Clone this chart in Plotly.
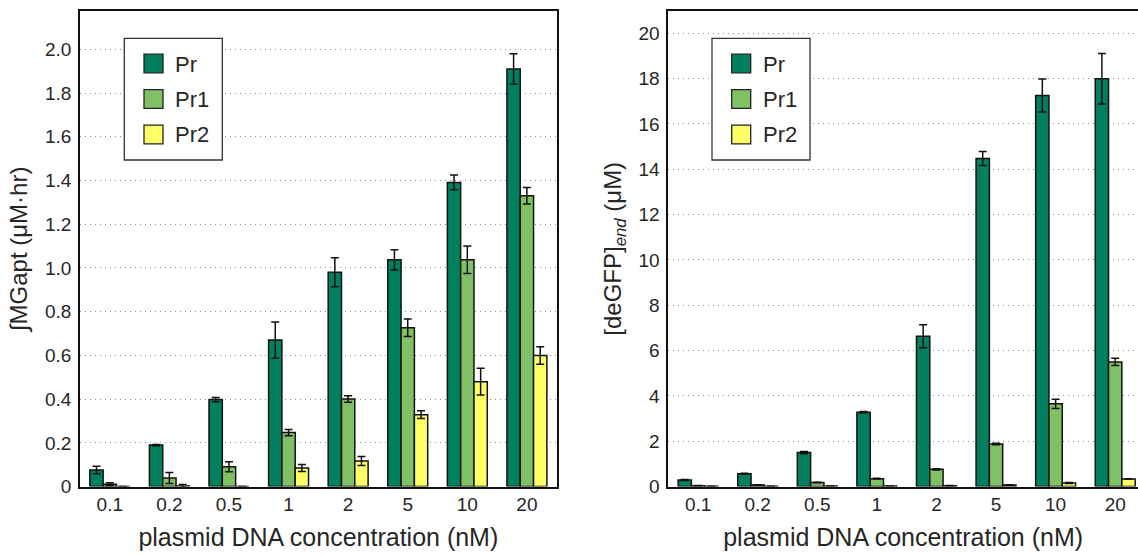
import plotly.graph_objects as go

# ---------------- data ----------------
categories = ["0.1", "0.2", "0.5", "1", "2", "5", "10", "20"]
series_names = ["Pr", "Pr1", "Pr2"]

# left panel: integrated MGapt (uM*hr)
mg_pr = [0.076, 0.190, 0.398, 0.670, 0.980, 1.037, 1.391, 1.910]
mg_pr_err = [0.017, 0.003, 0.010, 0.083, 0.066, 0.046, 0.034, 0.070]
mg_pr1 = [0.011, 0.039, 0.091, 0.247, 0.401, 0.727, 1.037, 1.330]
mg_pr1_err = [0.007, 0.025, 0.023, 0.014, 0.015, 0.040, 0.063, 0.038]
mg_pr2 = [0.0, 0.003, 0.0, 0.085, 0.117, 0.329, 0.480, 0.599]
mg_pr2_err = [0.0, 0.007, 0.0, 0.016, 0.021, 0.018, 0.061, 0.040]

# right panel: [deGFP]end (uM)
gfp_pr = [0.29, 0.57, 1.50, 3.28, 6.63, 14.47, 17.25, 17.99]
gfp_pr_err = [0.02, 0.02, 0.05, 0.03, 0.51, 0.31, 0.73, 1.11]
gfp_pr1 = [0.04, 0.07, 0.18, 0.35, 0.76, 1.88, 3.65, 5.50]
gfp_pr1_err = [0.01, 0.01, 0.01, 0.02, 0.03, 0.03, 0.20, 0.16]
gfp_pr2 = [0.01, 0.01, 0.03, 0.03, 0.04, 0.07, 0.16, 0.34]
gfp_pr2_err = [0.0, 0.0, 0.0, 0.0, 0.01, 0.01, 0.02, 0.01]

left_ticks = [0, 0.2, 0.4, 0.6, 0.8, 1.0, 1.2, 1.4, 1.6, 1.8, 2.0]
left_ticktext = ["0", "0.2", "0.4", "0.6", "0.8", "1.0", "1.2", "1.4", "1.6", "1.8", "2.0"]
right_ticks = [0, 2, 4, 6, 8, 10, 12, 14, 16, 18, 20]
right_ticktext = ["0", "2", "4", "6", "8", "10", "12", "14", "16", "18", "20"]

x_title = "plasmid DNA concentration (nM)"
left_ytitle = "∫MGapt (μM·hr)"
right_ytitle = "[deGFP]<sub><i>end</i></sub> (μM)"

# ---------------- style ----------------
colors = ["#00805f", "#80c166", "#ffff66"]
W = 1138
REF_H = 555.0
H = 566                     # page height that maps onto the 555 px picture
K = H / REF_H               # vertical factor from picture px to page px
FONT = "Liberation Sans, Arial, Helvetica, sans-serif"
TXT = "#262626"

fig = go.Figure()

left_sets = [(mg_pr, mg_pr_err), (mg_pr1, mg_pr1_err), (mg_pr2, mg_pr2_err)]
right_sets = [(gfp_pr, gfp_pr_err), (gfp_pr1, gfp_pr1_err), (gfp_pr2, gfp_pr2_err)]

for i, (vals, errs) in enumerate(left_sets):
    fig.add_trace(go.Bar(
        x=categories, y=vals, name=series_names[i], xaxis="x", yaxis="y",
        marker=dict(color=colors[i], line=dict(color="#111111", width=1.5)),
        error_y=dict(type="data", array=errs, visible=True, color="#111111",
                     thickness=1.5, width=4),
        showlegend=False, offsetgroup=str(i)))

for i, (vals, errs) in enumerate(right_sets):
    fig.add_trace(go.Bar(
        x=categories, y=vals, name=series_names[i], xaxis="x2", yaxis="y2",
        marker=dict(color=colors[i], line=dict(color="#111111", width=1.5)),
        error_y=dict(type="data", array=errs, visible=True, color="#111111",
                     thickness=1.5, width=4),
        showlegend=False, offsetgroup=str(i)))

# plot-area geometry (picture pixels)
L0, L1 = 80.0, 556.7
R0, R1 = 668.3, float(W)
TOP, BOT = 11.0, 486.6
cat_px = (L1 - L0) / 8.0

ydom = [1 - BOT / REF_H, 1 - TOP / REF_H]

axis_common = dict(showline=True, linecolor="#111111", linewidth=1.8,
                   ticks="", zeroline=False,
                   tickfont=dict(family=FONT, size=19, color=TXT))
xtitle_font = dict(family=FONT, size=25, color=TXT)
ytitle_font = dict(family=FONT, size=24, color=TXT)

fig.update_layout(
    width=W, height=H,
    margin=dict(l=0, r=0, t=0, b=0),
    paper_bgcolor="white", plot_bgcolor="white",
    barmode="group", bargap=0.33, bargroupgap=0.0,
    font=dict(family=FONT, color=TXT),
    xaxis=dict(domain=[L0 / W, L1 / W], anchor="y", type="category",
               range=[-0.5, 7.5], mirror=True, showgrid=False,
               ticklabelstandoff=0,
               title=dict(text=x_title, font=xtitle_font, standoff=14),
               **axis_common),
    yaxis=dict(domain=ydom, anchor="x", range=[0, 2.175], mirror=True,
               tickmode="array", tickvals=left_ticks, ticktext=left_ticktext,
               showgrid=True, gridcolor="#8c8c8c", gridwidth=1, griddash="1px,4px",
               ticklabelstandoff=3,
               title=dict(text=left_ytitle, font=ytitle_font, standoff=10),
               **axis_common),
    xaxis2=dict(domain=[R0 / W, R1 / W], anchor="y2", type="category",
                range=[-0.5, -0.5 + (R1 - R0) / cat_px], mirror=True, showgrid=False,
                ticklabelstandoff=0,
                title=dict(text=x_title, font=xtitle_font, standoff=14),
                **axis_common),
    yaxis2=dict(domain=ydom, anchor="x2", range=[0, 20.98], mirror=False,
                tickmode="array", tickvals=right_ticks, ticktext=right_ticktext,
                showgrid=True, gridcolor="#8c8c8c", gridwidth=1, griddash="1px,4px",
                ticklabelstandoff=3,
                title=dict(text=right_ytitle, font=ytitle_font, standoff=10),
                **axis_common),
)

# ---------------- legends (drawn as boxes + text) ----------------
def px(x):
    return x / W

def py(y):
    return 1 - y / REF_H

shapes = []
annotations = []
for box_left in (124.3, 712.0):
    shapes.append(dict(type="rect", xref="paper", yref="paper",
                       x0=px(box_left), x1=px(box_left + 98), y0=py(38.3), y1=py(160),
                       line=dict(color="#333333", width=1.3), fillcolor="white", layer="above"))
    for k, name in enumerate(series_names):
        cy = 63.5 + k * 35.5
        sx = box_left + 19.7
        half = 9.5 / K
        shapes.append(dict(type="rect", xref="paper", yref="paper",
                           x0=px(sx), x1=px(sx + 19), y0=py(cy - half), y1=py(cy + half),
                           line=dict(color="#222222", width=1.3), fillcolor=colors[k], layer="above"))
        annotations.append(dict(xref="paper", yref="paper", x=px(box_left + 49.0), y=py(cy + 0.5),
                                xanchor="left", yanchor="middle", showarrow=False,
                                text=name, font=dict(family=FONT, size=22, color=TXT)))

fig.update_layout(shapes=shapes, annotations=annotations)

fig.write_html(
    "out.html",
    config={"displayModeBar": False},
    post_script=("document.documentElement.style.margin='0';"
                 "document.body.style.margin='0';"
                 "document.body.style.overflow='hidden';"),
)
